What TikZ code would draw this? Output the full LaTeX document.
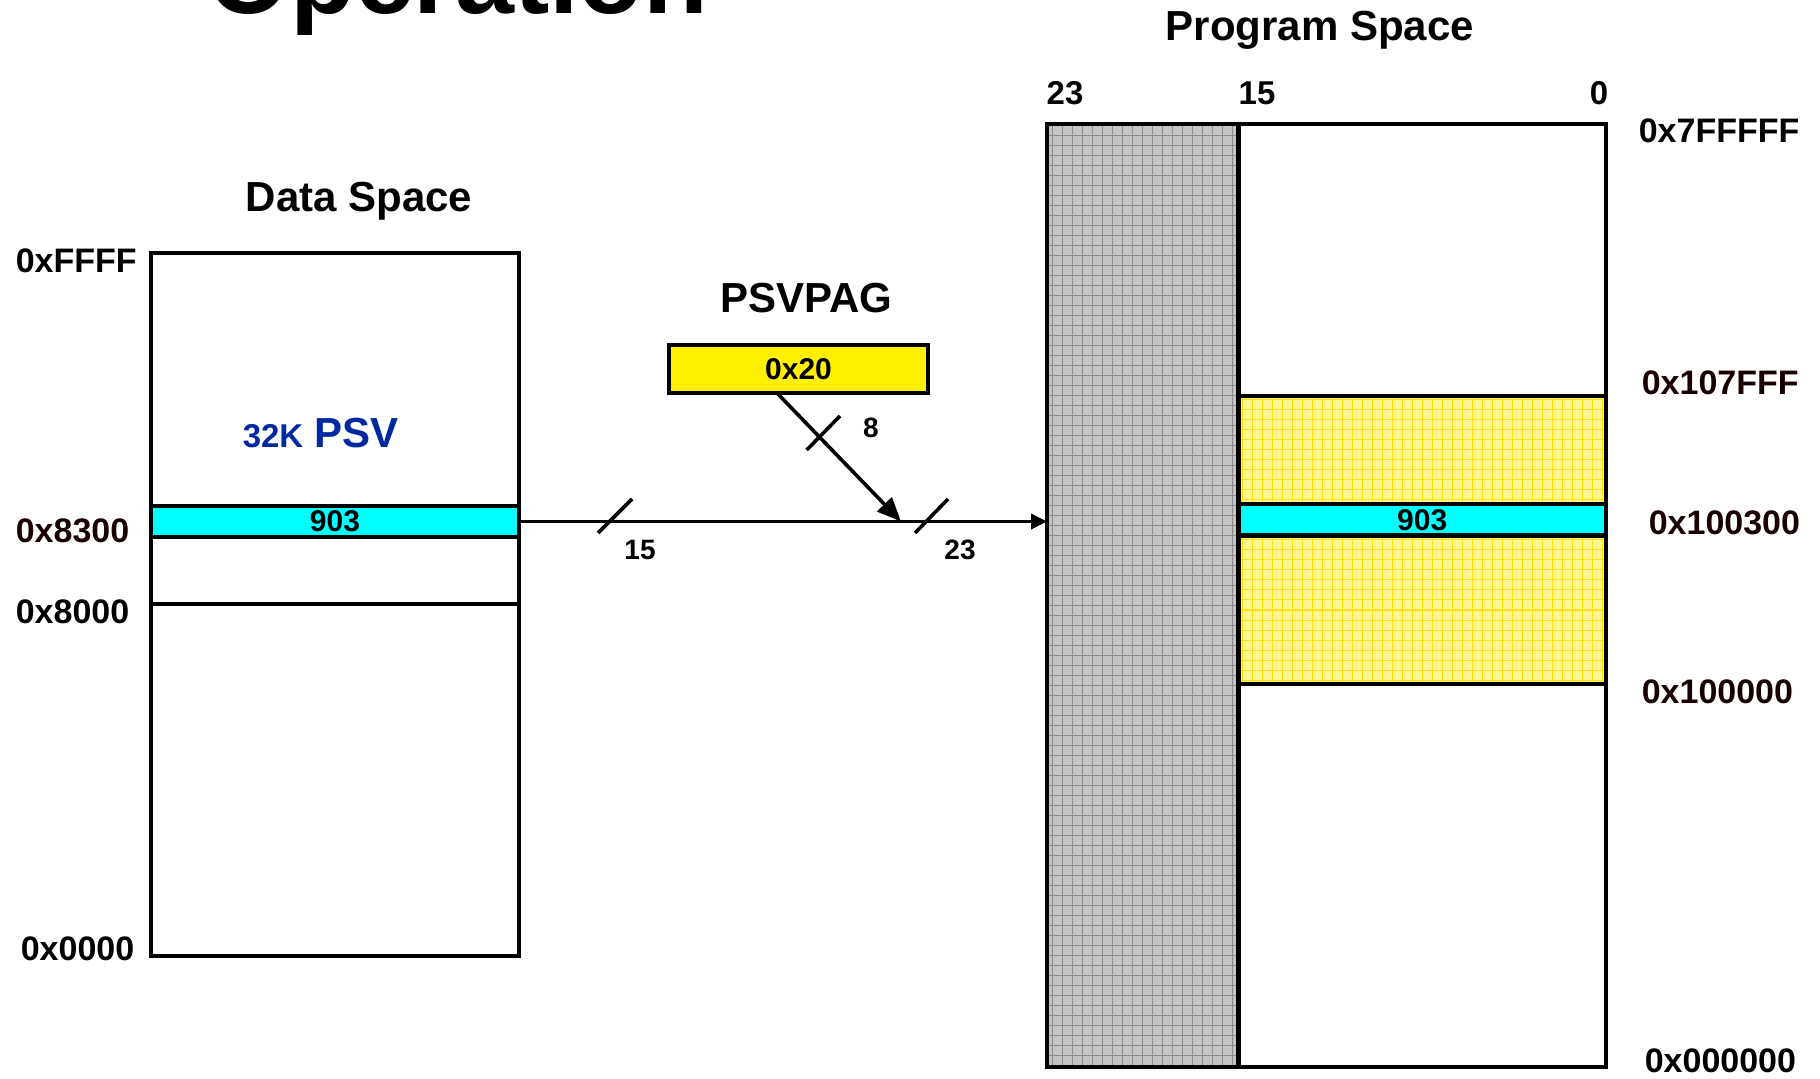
\documentclass[tikz,border=0pt]{standalone}
\usepackage{fontspec}
\setmainfont{Liberation Sans}
\usetikzlibrary{positioning,arrows.meta}

\definecolor{psvcyan}{RGB}{0,255,255}
\definecolor{pagyellow}{RGB}{255,240,0}
\definecolor{psvyellow}{RGB}{255,244,150}
\definecolor{psvgrid}{RGB}{255,226,0}
\definecolor{romgrey}{RGB}{196,196,196}
\definecolor{romgrid}{RGB}{140,140,140}
\definecolor{psvblue}{RGB}{0,40,160}
\definecolor{addrred}{RGB}{25,0,0}

\newcommand{\fsz}[1]{\fontsize{#1}{#1}\selectfont}

\begin{document}
\begin{tikzpicture}[x=0.5pt, y=-0.5pt, line width=1.8pt,
>={Triangle[length=8pt,width=7.5pt]},
mem node/.style={rectangle,draw,inner sep=0pt,outer sep=0pt,line width=2.4pt},
band node/.style={mem node,fill=psvcyan,font=\fsz{15pt}\bfseries},
addr node/.style={inner sep=0pt,font=\fsz{17pt}\bfseries},
title node/.style={inner sep=0pt,font=\fsz{21pt}\bfseries},
bit node/.style={inner sep=0pt,font=\fsz{14pt}\bfseries},
grid fill/.style 2 args={fill=#1,path picture={\draw[#2,line width=0.5pt,step=5pt]
  (path picture bounding box.south west) grid (path picture bounding box.north east);}}]

\useasboundingbox (0,0) rectangle (1820,1079);

\node[inner sep=0pt,font=\fsz{53pt}\bfseries,anchor=base west] at (206,14) {Operation};

% data space
\node[mem node,minimum width=184pt,minimum height=351.5pt] (data) at (335,604.5) {};
\node[band node,minimum width=184pt,minimum height=15.5pt] (dword) at (335,521.5) {903};
\coordinate (lo) at (0,604);
\draw[line width=2.4pt] (data.west |- lo) -- (data.east |- lo);
\node[title node,anchor=base] at (359,212) {Data Space};
\node[inner sep=0pt,anchor=base west,text=psvblue,font=\bfseries] at (241,448)
  {{\fsz{16.5pt}32K}\hspace{3pt} {\fsz{21pt}PSV}};

\node[addr node,anchor=west] at (14,261) {0xFFFF};
\node[addr node,anchor=west,text=addrred] at (14,531) {0x8300};
\node[addr node,anchor=west] at (14,612) {0x8000};
\node[addr node,anchor=west] at (19,949) {0x0000};

% page register
\node[title node,anchor=base] at (806.5,313) {PSVPAG};
\node[mem node,fill=pagyellow,minimum width=129.5pt,minimum height=24pt,
  font=\fsz{15pt}\bfseries] (pag) at (798.5,369) {0x20};

% program space
\node[mem node,grid fill={romgrey}{romgrid},minimum width=95.75pt,minimum height=471.5pt]
  (rom) at (1142.75,595.5) {};
\node[mem node,minimum width=183.75pt,minimum height=471.5pt] (prog) [right=0pt of rom] {};
\coordinate (hi) at (0,540);
\coordinate (mid) at (0,519.75);
\node[mem node,grid fill={psvyellow}{psvgrid},minimum width=183.75pt,minimum height=144pt]
  (psv) at (prog.center |- hi) {};
\node[band node,minimum width=183.75pt,minimum height=15.75pt] (pword) at (prog.center |- mid) {903};
\node[title node,anchor=base] at (1320,40.5) {Program Space};

\node[bit node,font=\fsz{16.5pt}\bfseries] at (1065,93) {23};
\node[bit node,font=\fsz{16.5pt}\bfseries] at (1257,93) {15};
\node[bit node,font=\fsz{16.5pt}\bfseries] at (1599,93) {0};

\node[addr node,anchor=west] at (1637,131) {0x7FFFFF};
\node[addr node,anchor=west,text=addrred] at (1640,382.5) {0x107FFF};
\node[addr node,anchor=west,text=addrred] at (1647,522.5) {0x100300};
\node[addr node,anchor=west,text=addrred] at (1640,691.5) {0x100000};
\node[addr node,anchor=west] at (1643,1061) {0x000000};

% address path
\coordinate (join) at (901,521.5);
\draw[->] (dword.east) -- (rom.west |- dword.east);
\draw[-{Triangle[length=12pt,width=10pt]}] ([xshift=-10.75pt]pag.south) -- (join);

\draw (598,533) -- (632,499);
\draw (915,533) -- (948,499);
\draw (806.7,450) -- (840,416);
\node[bit node] at (640,550) {15};
\node[bit node] at (960,550) {23};
\node[bit node] at (871,428) {8};
\end{tikzpicture}
\end{document}
